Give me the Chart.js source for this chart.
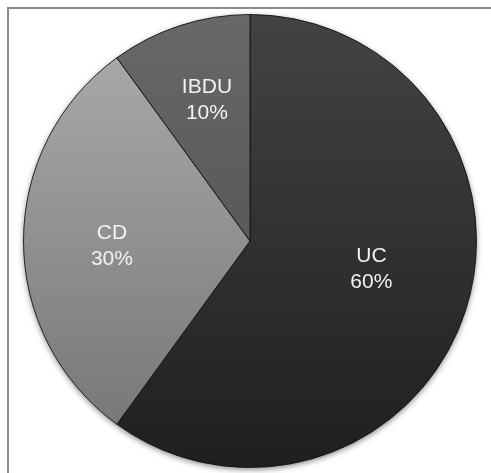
<!DOCTYPE html>
<html>
<head>
<meta charset="utf-8">
<script src="https://cdn.jsdelivr.net/npm/chart.js@4/dist/chart.umd.min.js"></script>
<style>
  html, body { margin: 0; padding: 0; background: #fff; }
  #wrap { position: relative; width: 491px; height: 473px; overflow: hidden; }
  #frame { position: absolute; left: 7px; top: 7px; width: 600px; height: 600px;
           border-left: 2px solid #8c8c8c; border-top: 2px solid #8c8c8c; }
  canvas { position: absolute; left: 0; top: 0; }
</style>
</head>
<body>
<div id="wrap">
  <div id="frame"></div>
  <canvas id="pie" width="491" height="473"></canvas>
</div>
<script>
// pie data
const categories = ['UC', 'CD', 'IBDU'];
const shares = [60, 30, 10];

// gradient top / bottom per slice
const topColors = ['#434343', '#adadad', '#686868'];
const bottomColors = ['#1f1f1f', '#737373', '#4a4a4a'];

// where the labels sit inside each slice
const labelRadius = [0.55, 0.61, 0.65];
const labelShift = [-5, -2, 1];

const pieShadow = {
    id: 'pieShadow',
    beforeDatasetsDraw(chart) {
        const arc = chart.getDatasetMeta(0).data[0];
        if (!arc) return;
        const ctx = chart.ctx;
        ctx.save();
        ctx.shadowColor = 'rgba(0,0,0,0.55)';
        ctx.shadowBlur = 6;
        ctx.shadowOffsetY = 2;
        ctx.fillStyle = '#333';
        ctx.beginPath();
        ctx.arc(arc.x, arc.y, arc.outerRadius - 0.5, 0, Math.PI * 2);
        ctx.fill();
        ctx.restore();
    }
};

const sliceLabels = {
    id: 'sliceLabels',
    afterDatasetsDraw(chart) {
        const ctx = chart.ctx;
        const meta = chart.getDatasetMeta(0);
        const total = shares.reduce((a, b) => a + b, 0);
        ctx.save();
        ctx.fillStyle = '#f2f2f2';
        ctx.font = '21px "Liberation Sans", Arial, sans-serif';
        ctx.textAlign = 'center';
        ctx.textBaseline = 'middle';
        meta.data.forEach((arc, i) => {
            const mid = (arc.startAngle + arc.endAngle) / 2 + labelShift[i] * Math.PI / 180;
            const r = arc.outerRadius * labelRadius[i];
            const x = arc.x + Math.cos(mid) * r;
            const y = arc.y + Math.sin(mid) * r;
            const pct = Math.round(shares[i] / total * 100) + '%';
            ctx.fillText(categories[i], x, y - 13);
            ctx.fillText(pct, x, y + 13);
        });
        ctx.restore();
    }
};

const ctx = document.getElementById('pie').getContext('2d');
new Chart(ctx, {
    type: 'pie',
    data: {
        labels: categories,
        datasets: [{
            data: shares,
            backgroundColor: (c) => {
                const area = c.chart.chartArea;
                const i = c.dataIndex;
                if (!area) return topColors[i];
                const g = c.chart.ctx.createLinearGradient(0, area.top, 0, area.bottom);
                g.addColorStop(0, topColors[i]);
                g.addColorStop(1, bottomColors[i]);
                return g;
            },
            borderColor: 'rgba(15,15,15,0.85)',
            borderWidth: 1,
            hoverOffset: 0,
            hoverBorderWidth: 1
        }]
    },
    options: {
        responsive: false,
        animation: false,
        layout: { padding: { left: 23, right: 14, top: 14, bottom: 5 } },
        plugins: {
            legend: { display: false },
            tooltip: { enabled: false }
        }
    },
    plugins: [pieShadow, sliceLabels]
});
</script>
</body>
</html>
